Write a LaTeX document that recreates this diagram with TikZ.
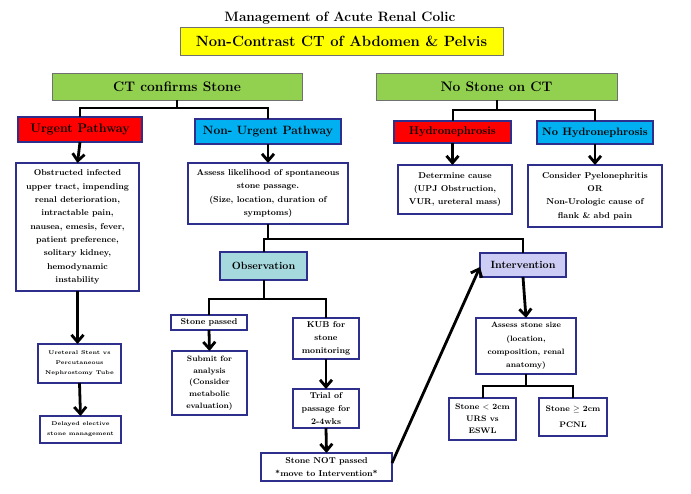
\documentclass[tikz,border=0pt]{standalone}
\usepackage{amsmath,amssymb}
\usetikzlibrary{arrows.meta,calc}
\definecolor{colgreen}{HTML}{92D050}
\definecolor{colyellow}{HTML}{FFFF00}
\definecolor{colred}{HTML}{FF0000}
\definecolor{colcyan}{HTML}{00B0F0}
\definecolor{colnavy}{HTML}{2E2E8C}
\definecolor{colgray}{HTML}{707070}
\definecolor{colteal}{HTML}{A5D9DE}
\definecolor{collav}{HTML}{CCCCF4}
\tikzset{
    sz/.style 2 args={minimum width=#1pt,minimum height=#2pt},
    lead/.style={draw=colgray,line width=1pt,fill=colgreen,inner sep=1pt,outer sep=0pt,
        font=\fontsize{13.8}{15}\selectfont\bfseries},
    branch/.style={draw=colnavy,line width=1.5pt,inner sep=1pt,outer sep=0pt,
        font=\fontsize{12}{13}\selectfont\bfseries},
    stage/.style={draw=colnavy,line width=2.5pt,inner sep=1pt,outer sep=0pt,
        font=\fontsize{10.5}{12}\selectfont\bfseries},
    box/.style={draw=colnavy,line width=2pt,fill=white,align=center,inner sep=1pt,outer sep=0pt,
        font=\fontsize{8.5}{13.3}\selectfont\bfseries},
    tinybox/.style={box,font=\fontsize{5.4}{10}\selectfont\bfseries},
    link/.style={line width=2pt},
    arr/.style={line width=2.8pt,-{Straight Barb[length=7pt,width=12pt]}},
}
\begin{document}
\begin{tikzpicture}[x=1pt,y=-1pt]
    \useasboundingbox (0,0) rectangle (691,493);

    \node[font=\fontsize{13.6}{15}\selectfont\bfseries] (title) at (340,18) {Management of Acute Renal Colic};
    \node[lead,fill=colyellow,sz={323}{28},font=\fontsize{14.8}{16}\selectfont\bfseries] (ct) at (341.5,41) {Non-Contrast CT of Abdomen \& Pelvis};

    \node[lead,sz={250}{27}] (conf) at (177,86.5) {CT confirms Stone};
    \node[lead,sz={241}{27}] (nostone) at (496.5,86.5) {No Stone on CT};

    \node[branch,fill=colred,sz={124}{25},font=\fontsize{12.4}{13}\selectfont\bfseries] (urgent) at (80,129.5) {Urgent Pathway};
    \node[branch,fill=colcyan,sz={146}{25}] (nonurg) at (268,131.5) {Non- Urgent Pathway};
    \node[branch,fill=colred,sz={117}{22},font=\fontsize{11.2}{12}\selectfont\bfseries] (hydro) at (452.5,132) {Hydronephrosis};
    \node[branch,fill=colcyan,sz={116}{23},font=\fontsize{10.8}{12}\selectfont\bfseries] (nohydro) at (595,132.5) {No Hydronephrosis};

    \node[box,sz={123}{128}] (obstr) at (77.5,227) {Obstructed infected\\upper tract, impending\\renal deterioration,\\intractable pain,\\nausea, emesis, fever,\\patient preference,\\solitary kidney,\\hemodynamic\\instability};
    \node[box,sz={160}{61}] (assess) at (268,193.5) {Assess likelihood of spontaneous\\stone passage.\\(Size, location, duration of\\symptoms)};
    \node[box,sz={114}{49}] (determ) at (455,189.5) {Determine cause\\(UPJ Obstruction,\\VUR, ureteral mass)};
    \node[box,sz={134}{62}] (consider) at (595,196) {Consider Pyelonephritis\\OR\\Non-Urologic cause of\\flank \& abd pain};

    \node[tinybox,sz={83}{39}] (stent) at (79.5,363.5) {Ureteral Stent vs\\Percutaneous\\Nephrostomy Tube};
    \node[tinybox,sz={81}{27}] (delayed) at (80.5,429.5) {Delayed elective\\stone management};

    \node[stage,fill=colteal,sz={87}{28}] (obs) at (263.5,266) {Observation};
    \node[stage,fill=collav,sz={86}{24}] (interv) at (523,265) {Intervention};

    \node[box,sz={76}{15}] (passed) at (209,322.5) {Stone passed};
    \node[box,sz={75}{64},font=\fontsize{7.8}{11.7}\selectfont\bfseries] (submit) at (209.5,383) {Submit for\\analysis\\(Consider\\metabolic\\evaluation)};
    \node[box,sz={66}{41}] (kub) at (326,338.5) {KUB for\\stone\\monitoring};
    \node[box,sz={66}{39}] (trial) at (326,408.5) {Trial of\\passage for\\2-4wks};
    \node[box,sz={131}{28},font=\fontsize{8.5}{12.7}\selectfont\bfseries] (notpassed) at (326.5,467) {Stone NOT passed\\*move to Intervention*};

    \node[box,sz={100}{56},font=\fontsize{7.8}{13.3}\selectfont\bfseries] (sizeb) at (526,346) {Assess stone size\\(location,\\composition, renal\\anatomy)};
    \node[box,sz={67}{42},font=\fontsize{8}{12.2}\selectfont\bfseries] (small) at (482.5,419) {Stone $<$ 2cm\\URS vs\\ESWL};
    \node[box,sz={68}{38},font=\fontsize{8}{12.2}\selectfont\bfseries] (large) at (573,417) {Stone $\geq$ 2cm\\[4pt]PCNL};

    \coordinate (j1) at (177,108);
    \coordinate (j2) at (496.5,110);
    \coordinate (j3) at (268,239);
    \coordinate (j4) at (263.5,299);
    \coordinate (j5) at (526,386);

    \draw[link] (conf.south) -- (j1);
    \draw[link] (urgent.north) |- (j1) -| (nonurg.north);
    \draw[link] (nostone.south) -- (j2);
    \draw[link] (hydro.north) |- (j2) -| (nohydro.north);
    \draw[link] (assess.south) -- (j3);
    \draw[link] (obs.north) |- (j3) -| (interv.north);
    \draw[link] (obs.south) -- (j4);
    \draw[link] (passed.north) |- (j4) -| (kub.north);
    \draw[link] (sizeb.south) -- (j5);
    \draw[link] (small.north) |- (j5) -| (large.north);

    \draw[arr] (urgent.south) -- (obstr.north);
    \draw[arr] (nonurg.south) -- (assess.north);
    \draw[arr] (hydro.south) -- (hydro.south |- determ.north);
    \draw[arr] (nohydro.south) -- (consider.north);
    \draw[arr] (obstr.south) -- (obstr.south |- stent.north);
    \draw[arr] (stent.south) -- (delayed.north);
    \draw[arr] (passed.south) -- (submit.north);
    \draw[arr] (kub.south) -- (trial.north);
    \draw[arr] (trial.south) -- (notpassed.north);
    \draw[arr] ($(notpassed.east)+(0,-4)$) -- ($(interv.west)+(0,2)$);
    \draw[arr] (interv.south) -- (sizeb.north);
\end{tikzpicture}
\end{document}
